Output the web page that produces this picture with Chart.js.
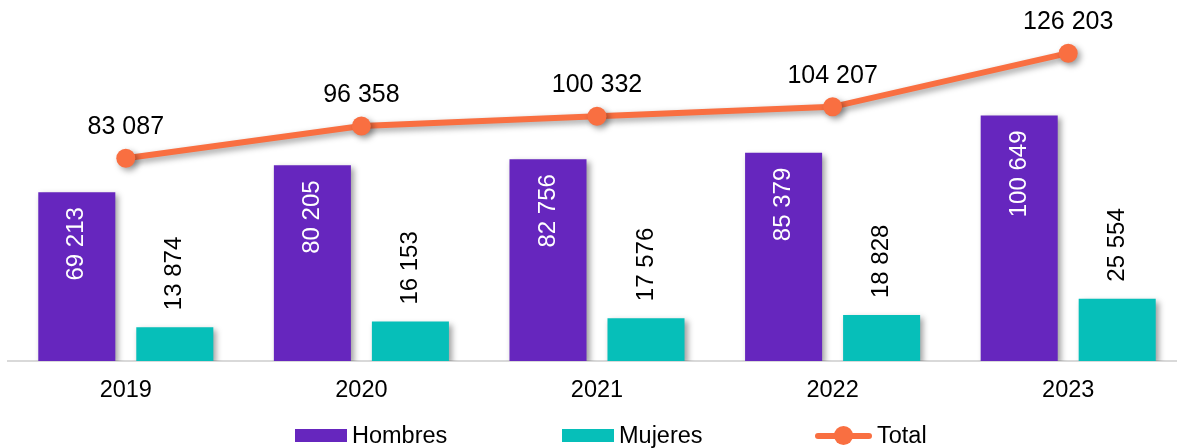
<!DOCTYPE html>
<html>
<head>
<meta charset="utf-8">
<script src="https://cdn.jsdelivr.net/npm/chart.js@4.4.0/dist/chart.umd.min.js"></script>
<style>
  html, body { margin: 0; padding: 0; background: #fff; overflow: hidden; width: 1177px; height: 448px; }
  #wrap { position: absolute; left: 0; top: 0; width: 1186px; height: 448px; }
  .leg { position: absolute; font-family: 'Liberation Sans', Arial, sans-serif; font-size: 23.5px; color: #000; line-height: 1; }
  .box { position: absolute; }
</style>
</head>
<body>
<div id="wrap"><canvas id="c" width="1186" height="448"></canvas></div>
<div class="box" style="left:295px;top:429px;width:52px;height:13px;background:#6626BE"></div>
<div class="leg" style="left:352px;top:424px">Hombres</div>
<div class="box" style="left:562px;top:429px;width:52px;height:13px;background:#06BFB9"></div>
<div class="leg" style="left:619px;top:424px">Mujeres</div>
<div class="box" style="left:815px;top:433px;width:57px;height:6px;background:#F96F41;border-radius:3px"></div>
<div class="box" style="left:834px;top:426px;width:19px;height:19px;background:#F96F41;border-radius:50%"></div>
<div class="leg" style="left:877px;top:424px">Total</div>
<script>
const categories = ['2019', '2020', '2021', '2022', '2023'];
const hombres = [69213, 80205, 82756, 85379, 100649];
const mujeres = [13874, 16153, 17576, 18828, 25554];
const total = [83087, 96358, 100332, 104207, 126203];

const FONT = "'Liberation Sans', Arial, sans-serif";
function fmt(v) { return String(v).replace(/\B(?=(\d{3})+(?!\d))/g, ' '); }

const shadowPlugin = {
  id: 'shadow',
  beforeDatasetDraw(chart) {
    const ctx = chart.ctx;
    ctx.save();
    ctx.shadowColor = 'rgba(0,0,0,0.38)';
    ctx.shadowBlur = 6;
    ctx.shadowOffsetX = 3;
    ctx.shadowOffsetY = 3;
  },
  afterDatasetDraw(chart) { chart.ctx.restore(); }
};

const labelPlugin = {
  id: 'labels',
  afterDatasetsDraw(chart) {
    const ctx = chart.ctx;
    ctx.save();
    chart.data.datasets.forEach((ds, i) => {
      const meta = chart.getDatasetMeta(i);
      meta.data.forEach((el, j) => {
        const v = ds.data[j];
        const t = fmt(v);
        if (ds.type === 'line') {
          ctx.font = '25px ' + FONT;
          ctx.fillStyle = '#000';
          ctx.textAlign = 'center';
          ctx.textBaseline = 'middle';
          ctx.fillText(t, el.x, el.y - 31);
        } else if (i === 0) {
          ctx.save();
          ctx.font = '24px ' + FONT;
          ctx.translate(el.x, el.y + 15);
          ctx.rotate(-Math.PI / 2);
          ctx.fillStyle = '#fff';
          ctx.textAlign = 'right';
          ctx.textBaseline = 'middle';
          ctx.fillText(t, 0, 0);
          ctx.restore();
        } else {
          ctx.save();
          ctx.font = '24px ' + FONT;
          ctx.translate(el.x, el.y - 17);
          ctx.rotate(-Math.PI / 2);
          ctx.fillStyle = '#000';
          ctx.textAlign = 'left';
          ctx.textBaseline = 'middle';
          ctx.fillText(t, 0, 0);
          ctx.restore();
        }
      });
    });
    ctx.restore();
  }
};

new Chart(document.getElementById('c'), {
  data: {
    labels: categories,
    datasets: [
      { type: 'bar', label: 'Hombres', data: hombres, backgroundColor: '#6626BE', order: 1,
        categoryPercentage: 0.832, barPercentage: 0.786 },
      { type: 'bar', label: 'Mujeres', data: mujeres, backgroundColor: '#06BFB9', order: 1,
        categoryPercentage: 0.832, barPercentage: 0.786 },
      { type: 'line', label: 'Total', data: total, borderColor: '#F96F41', backgroundColor: '#F96F41',
        borderWidth: 6, pointRadius: 9.5, pointHoverRadius: 9.5, pointBorderWidth: 0, order: 0,
        tension: 0, clip: false }
    ]
  },
  options: {
    responsive: false,
    animation: false,
    devicePixelRatio: 1,
    layout: { autoPadding: false, padding: { left: 8, right: 0, top: 0, bottom: 0 } },
    plugins: { legend: { display: false }, tooltip: { enabled: false } },
    scales: {
      x: {
        grid: { display: false, drawTicks: false },
        border: { display: true, color: '#D9D9D9', width: 2 },
        ticks: { color: '#000', font: { family: FONT, size: 23.5 }, padding: 15 },
        afterFit(s) { s.height = 87; }
      },
      y: { display: false, min: 0, max: 148000 }
    }
  },
  plugins: [shadowPlugin, labelPlugin]
});
</script>
</body>
</html>
